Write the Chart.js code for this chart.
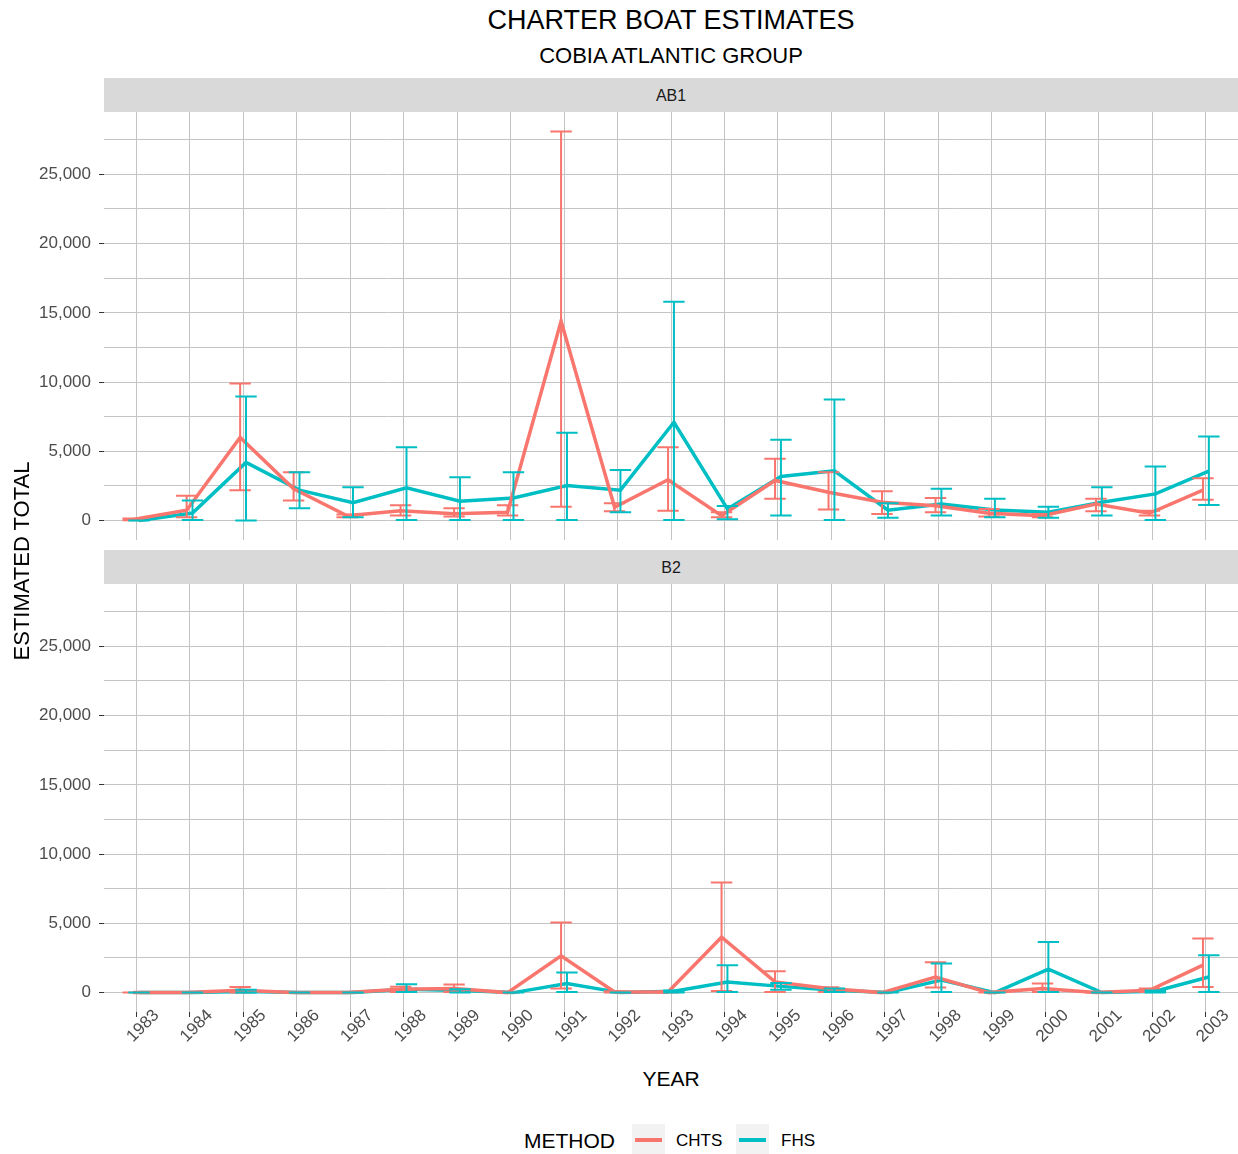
<!DOCTYPE html>
<html>
<head>
<meta charset="utf-8">
<script src="https://cdn.jsdelivr.net/npm/chart.js@4.4.1/dist/chart.umd.min.js"></script>
<style>
body { margin:0; background:#fff; font-family:"Liberation Sans", Arial, sans-serif; }
#wrap { position:relative; width:1238px; height:1154px; overflow:hidden; background:#fff; }
.abs { position:absolute; white-space:nowrap; }
.title { left:104px; width:1134px; text-align:center; color:#000; }
.strip { left:104px; width:1134px; height:34px; line-height:36px; background:#d9d9d9; text-align:center; font-size:16px; color:#1a1a1a; }
canvas { position:absolute; left:0; }
.key { width:33px; height:33px; background:#f2f2f2; }
.key span { position:absolute; left:3px; top:14px; width:27px; height:4px; }
</style>
</head>
<body>
<div id="wrap">
  <div class="abs title" style="top:7px;font-size:27px;line-height:27px">CHARTER BOAT ESTIMATES</div>
  <div class="abs title" style="top:45px;font-size:22px;line-height:22px">COBIA ATLANTIC GROUP</div>
  <div class="abs strip" style="top:78px">AB1</div>
  <div class="abs strip" style="top:550px">B2</div>
  <canvas id="c1" width="1238" height="468" style="top:92px"></canvas>
  <canvas id="c2" width="1238" height="498" style="top:564px"></canvas>
  <div class="abs" style="left:-128px;top:550px;width:300px;text-align:center;font-size:22px;line-height:22px;transform:rotate(-90deg)">ESTIMATED TOTAL</div>
  <div class="abs" style="left:104px;width:1134px;top:1068px;text-align:center;font-size:21px;line-height:21px">YEAR</div>
  <div class="abs" style="left:524px;top:1130px;font-size:21px;line-height:21px">METHOD</div>
  <div class="abs key" style="left:632px;top:1124px"><span style="background:#F8766D"></span></div>
  <div class="abs" style="left:676px;top:1132px;font-size:17px;line-height:17px">CHTS</div>
  <div class="abs key" style="left:736px;top:1124px"><span style="background:#00BFC4"></span></div>
  <div class="abs" style="left:781px;top:1132px;font-size:17px;line-height:17px">FHS</div>
</div>
<script>
const years = [1983,1984,1985,1986,1987,1988,1989,1990,1991,1992,1993,1994,1995,1996,1997,1998,1999,2000,2001,2002,2003];

// AB1
const ab1Chts   = [80, 750, 6000, 2300, 350, 720, 500, 600, 14400, 960, 2950, 360, 2900, 2050, 1330, 1080, 530, 360, 1200, 530, 2200];
const ab1ChtsLo = [20, 240, 2200, 1450, 250, 360, 300, 360, 1000, 670, 720, 240, 1570, 800, 480, 600, 300, 240, 670, 360, 1500];
const ab1ChtsHi = [150, 1800, 9900, 3500, 450, 1100, 900, 1100, 28100, 1250, 5300, 600, 4460, 3500, 2120, 1640, 840, 480, 1570, 720, 3060];
const ab1Fhs    = [0, 550, 4200, 2200, 1300, 2360, 1400, 1640, 2530, 2200, 7100, 840, 3180, 3600, 750, 1200, 770, 600, 1330, 1930, 3570];
const ab1FhsLo  = [0, 50, 0, 900, 250, 50, 50, 50, 50, 600, 50, 100, 360, 50, 200, 360, 240, 200, 360, 50, 1130];
const ab1FhsHi  = [0, 1450, 8960, 3500, 2400, 5300, 3130, 3500, 6340, 3660, 15800, 1050, 5830, 8750, 1250, 2300, 1570, 1000, 2400, 3900, 6070];

// B2
const b2Chts   = [0, 0, 170, 0, 0, 250, 290, 0, 2650, 50, 50, 4000, 770, 290, 0, 1130, 0, 290, 0, 170, 1980];
const b2ChtsLo = [0, 0, 0, 0, 0, 50, 50, 0, 290, 0, 0, 120, 50, 50, 0, 360, 0, 50, 0, 50, 400];
const b2ChtsHi = [0, 0, 400, 0, 0, 420, 580, 0, 5060, 100, 100, 7950, 1540, 380, 0, 2200, 0, 650, 0, 290, 3900];
const b2Fhs    = [0, 0, 80, 0, 0, 240, 150, 0, 650, 0, 100, 770, 450, 170, 0, 900, 0, 1690, 0, 100, 1130];
const b2FhsLo  = [0, 0, 0, 0, 0, 50, 0, 0, 50, 0, 0, 50, 200, 50, 0, 50, 0, 50, 0, 0, 50];
const b2FhsHi  = [0, 0, 200, 0, 0, 600, 250, 0, 1450, 0, 150, 1980, 700, 300, 0, 2100, 0, 3660, 0, 150, 2700];

const yTicks = [0, 2500, 5000, 7500, 10000, 12500, 15000, 17500, 20000, 22500, 25000, 27500];

const RED = '#F8766D', CYAN = '#00BFC4', GRID = '#c4c4c4';
const DODGE = 0.055, HALF = 0.2;

function series(vals, lo, hi, color, dodge) {
    return {
        data: years.map((yr, i) => ({x: yr + dodge, y: vals[i]})),
        errLo: lo, errHi: hi, dodge: dodge,
        borderColor: color, backgroundColor: color,
        borderWidth: 3.5, pointRadius: 0, tension: 0, fill: false
    };
}

const errorBars = {
    id: 'errorBars',
    afterDatasetsDraw(chart) {
        const {ctx, chartArea, scales: {x, y}} = chart;
        ctx.save();
        ctx.beginPath();
        ctx.rect(chartArea.left, chartArea.top, chartArea.width, chartArea.height);
        ctx.clip();
        chart.data.datasets.forEach(ds => {
            ctx.strokeStyle = ds.borderColor;
            ctx.lineWidth = 2;
            years.forEach((yr, i) => {
                const cx = x.getPixelForValue(yr + ds.dodge);
                const x0 = x.getPixelForValue(yr + ds.dodge - HALF);
                const x1 = x.getPixelForValue(yr + ds.dodge + HALF);
                const yl = y.getPixelForValue(ds.errLo[i]);
                const yh = y.getPixelForValue(ds.errHi[i]);
                ctx.beginPath();
                ctx.moveTo(x0, yh); ctx.lineTo(x1, yh);
                ctx.moveTo(cx, yh); ctx.lineTo(cx, yl);
                ctx.moveTo(x0, yl); ctx.lineTo(x1, yl);
                ctx.stroke();
            });
        });
        ctx.restore();
    }
};

const yearLabels = {
    id: 'yearLabels',
    afterDraw(chart) {
        const {ctx, chartArea, scales: {x}} = chart;
        ctx.save();
        ctx.font = '17px "Liberation Sans", Arial, sans-serif';
        ctx.fillStyle = '#4d4d4d';
        ctx.textAlign = 'center';
        ctx.textBaseline = 'middle';
        years.forEach(yr => {
            const px = x.getPixelForValue(yr);
            ctx.save();
            ctx.translate(px + 7, chartArea.bottom + 14);
            ctx.rotate(-Math.PI / 4);
            ctx.fillText(String(yr), 0, 0);
            ctx.restore();
        });
        ctx.restore();
    }
};

function makeChart(id, chts, chtsLo, chtsHi, fhs, fhsLo, fhsHi, bottomPanel) {
    const plugins = [errorBars];
    if (bottomPanel) plugins.push(yearLabels);
    return new Chart(document.getElementById(id), {
        type: 'line',
        data: {
            datasets: [
                series(chts, chtsLo, chtsHi, RED, -DODGE),
                series(fhs, fhsLo, fhsHi, CYAN, DODGE)
            ]
        },
        options: {
            responsive: false,
            animation: false,
            layout: {padding: {top: 20, bottom: bottomPanel ? 50 : 20, left: 0, right: 0}},
            plugins: {legend: {display: false}, tooltip: {enabled: false}},
            scales: {
                x: {
                    type: 'linear', min: 1982.4, max: 2003.6,
                    afterBuildTicks: s => { s.ticks = years.map(v => ({value: v})); },
                    afterFit: s => { s.height = 0; },
                    ticks: {display: false},
                    border: {display: false},
                    grid: {color: GRID, lineWidth: 1, drawTicks: bottomPanel, tickLength: 5, tickColor: '#333'}
                },
                y: {
                    min: -1400, max: 29500,
                    afterBuildTicks: s => { s.ticks = yTicks.map(v => ({value: v})); },
                    afterFit: s => { s.width = 104; },
                    border: {display: false},
                    grid: {
                        color: GRID, lineWidth: 1, drawTicks: true, tickLength: 5,
                        tickColor: c => (c.tick && c.tick.value % 5000 === 0) ? '#333' : 'rgba(0,0,0,0)'
                    },
                    ticks: {
                        padding: 8, color: '#4d4d4d',
                        font: {family: '"Liberation Sans", Arial, sans-serif', size: 17},
                        callback: v => v % 5000 === 0 ? v.toLocaleString('en-US') : ''
                    }
                }
            }
        },
        plugins: plugins
    });
}

makeChart('c1', ab1Chts, ab1ChtsLo, ab1ChtsHi, ab1Fhs, ab1FhsLo, ab1FhsHi, false);
makeChart('c2', b2Chts, b2ChtsLo, b2ChtsHi, b2Fhs, b2FhsLo, b2FhsHi, true);
</script>
</body>
</html>
